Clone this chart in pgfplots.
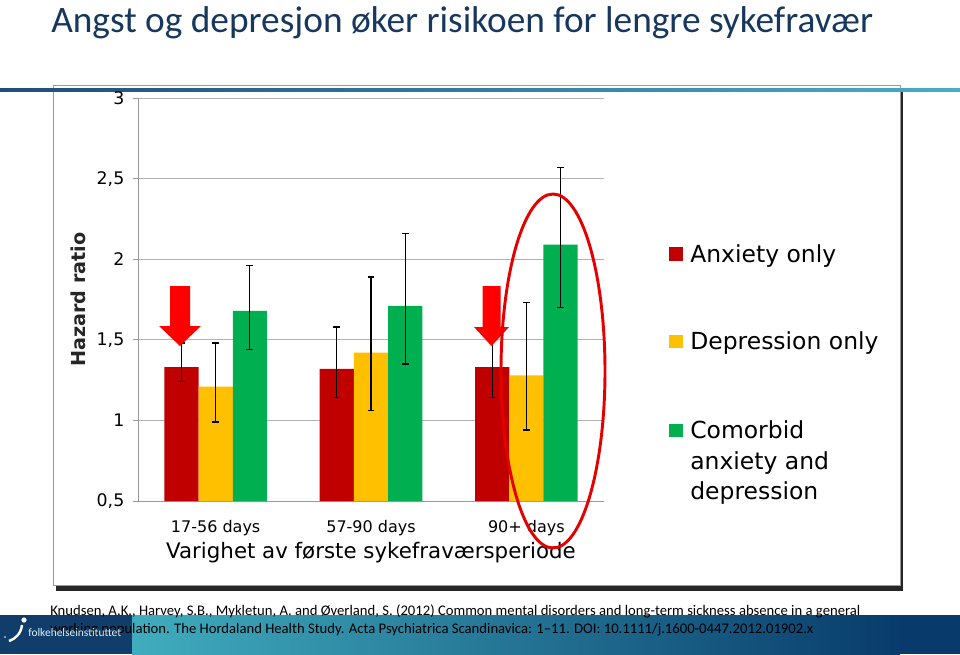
\documentclass[border=0pt]{standalone}
\usepackage{pgfplots}
\pgfplotsset{compat=1.18}
\usepackage{fontspec}
\setmainfont{DejaVu Sans}
\newfontfamily\calibri{Carlito}

\definecolor{anx}{HTML}{C00000}
\definecolor{dep}{HTML}{FFC000}
\definecolor{com}{HTML}{00B050}
\definecolor{titleblue}{HTML}{17375E}
\definecolor{footnavy}{HTML}{083B6B}
\definecolor{footleft}{HTML}{113D6B}
\definecolor{footteal}{HTML}{40ADBE}
\definecolor{rulenavy}{HTML}{1F4E79}
\definecolor{ruleteal}{HTML}{4BACC6}

\begin{document}
\begin{tikzpicture}
% slide in pixel units (960 x 654), y downwards
\begin{scope}[x=0.75pt,y=-0.75pt]
\fill[white] (0,0) rectangle (960,654);
\path[use as bounding box] (0,0) rectangle (960,654);
% chart panel with shadow
\fill[black!85] (56,89) rectangle (903,591);
\filldraw[fill=white, draw=black!40, line width=0.75pt] (53,85) rectangle (900,585);
% title and rule
\shade[left color=rulenavy, right color=ruleteal] (0,88) rectangle (960,91);
\node[anchor=base west, inner sep=0, text=titleblue,
      font=\calibri\fontsize{28}{33}\selectfont] at (51,32)
      {Angst og depresjon øker risikoen for lengre sykefravær};
\end{scope}

\begin{axis}[
  at={(103.5pt,-375.75pt)}, anchor=south west,
  scale only axis, width=349.5pt, height=302.25pt,
  xmin=-0.5, xmax=2.5, ymin=0.5, ymax=3,
  enlargelimits=false,
  axis lines*=left,
  axis line style={black!40, line width=0.75pt},
  ymajorgrids, grid style={black!30, line width=0.75pt},
  ytick={0.5,1,1.5,2,2.5,3},
  xtick={0,1,2},
  xticklabels={17-56 days,57-90 days,90+ days},
  x tick style={draw=none},
  y tick style={black!40, line width=0.75pt},
  tick align=outside, major tick length=3.75pt,
  /pgf/number format/.cd, use comma, 1000 sep={}, assume math mode=true,
  /pgfplots/.cd,
  yticklabel style={font=\fontsize{13}{15}\selectfont, xshift=-3pt},
  xticklabel style={anchor=base, yshift=-20pt, font=\fontsize{12}{14}\selectfont},
  ylabel={Hazard ratio},
  ylabel style={at={(axis description cs:-0.129,0.5)}, anchor=center,
                font=\bfseries\fontsize{14.4}{17}\selectfont, text=black!85},
  xlabel={Varighet av første sykefraværsperiode},
  xlabel style={at={(axis description cs:0.5,-0.129)}, anchor=center,
                font=\fontsize{16}{19}\selectfont},
  ybar, bar width=0.22,
  error bars/y dir=both, error bars/y explicit,
  error bars/error bar style={black, line width=0.9pt},
  error bars/error mark options={rotate=90, black, mark size=2.6pt, line width=0.9pt},
]
% Anxiety only
\addplot[fill=anx, draw=none, bar shift=0pt] coordinates {
  (-0.22,1.33) += (0,0.15) -= (0,0.09)
  (0.78,1.32)  += (0,0.26) -= (0,0.18)
  (1.78,1.33)  += (0,0.22) -= (0,0.19)
};
% Depression only
\addplot[fill=dep, draw=none, bar shift=0pt] coordinates {
  (0,1.21) += (0,0.27) -= (0,0.22)
  (1,1.42) += (0,0.47) -= (0,0.36)
  (2,1.28) += (0,0.45) -= (0,0.34)
};
% Comorbid anxiety and depression
\addplot[fill=com, draw=none, bar shift=0pt] coordinates {
  (0.22,1.68) += (0,0.28) -= (0,0.24)
  (1.22,1.71) += (0,0.45) -= (0,0.36)
  (2.22,2.09) += (0,0.48) -= (0,0.39)
};
\end{axis}

\begin{scope}[x=0.75pt,y=-0.75pt]
% legend
\fill[anx] (669,247) rectangle (683,261);
\fill[dep] (669,335) rectangle (683,348);
\fill[com] (669,424) rectangle (683,437);
\begin{scope}[every node/.style={anchor=base west, inner sep=0, font=\fontsize{17.6}{21}\selectfont}]
\node at (690,262) {Anxiety only};
\node at (690,349) {Depression only};
\node at (690,438) {Comorbid};
\node at (690,469) {anxiety and};
\node at (690,499) {depression};
\end{scope}
% red arrows
\fill[red] (170,286) -- (190,286) -- (190,326) -- (201,326) -- (180,346)
           -- (159,326) -- (170,326) -- cycle;
\fill[red] (482.5,286) -- (500.5,286) -- (500.5,327) -- (509,327) -- (491.5,346)
           -- (474,327) -- (482.5,327) -- cycle;
% ellipse round the 90+ group
\draw[red!90!black, line width=2.2pt] (553,371) ellipse [x radius=52, y radius=177];
% footer
\fill[footnavy] (0,615) rectangle (960,654);
\shade[left color=footteal, right color=footnavy] (132,615) rectangle (900,654);
\fill[footleft] (0,615) rectangle (132,654);
\begin{scope}[every node/.style={anchor=base west, inner sep=0, font=\calibri\fontsize{11}{13}\selectfont}]
\node at (50,615) {Knudsen, A.K., Harvey, S.B., Mykletun, A. and Øverland, S. (2012) Common mental disorders and long-term sickness absence in a general};
\node at (50,633) {working population. The Hordaland Health Study. Acta Psychiatrica Scandinavica: 1–11. DOI: 10.1111/j.1600-0447.2012.01902.x};
\end{scope}
% institute logo
\draw[white, line width=1.8pt] (9,641) .. controls (15,639) and (21,634) .. (22,625);
\fill[white] (24,620) circle (2.6);
\fill[white] (5,637) circle (0.9);
\node[anchor=base west, inner sep=0, text=white!85!cyan,
      font=\calibri\fontsize{8.6}{10}\selectfont] at (28,636) {folkehelseinstituttet};
\end{scope}
\end{tikzpicture}
\end{document}
